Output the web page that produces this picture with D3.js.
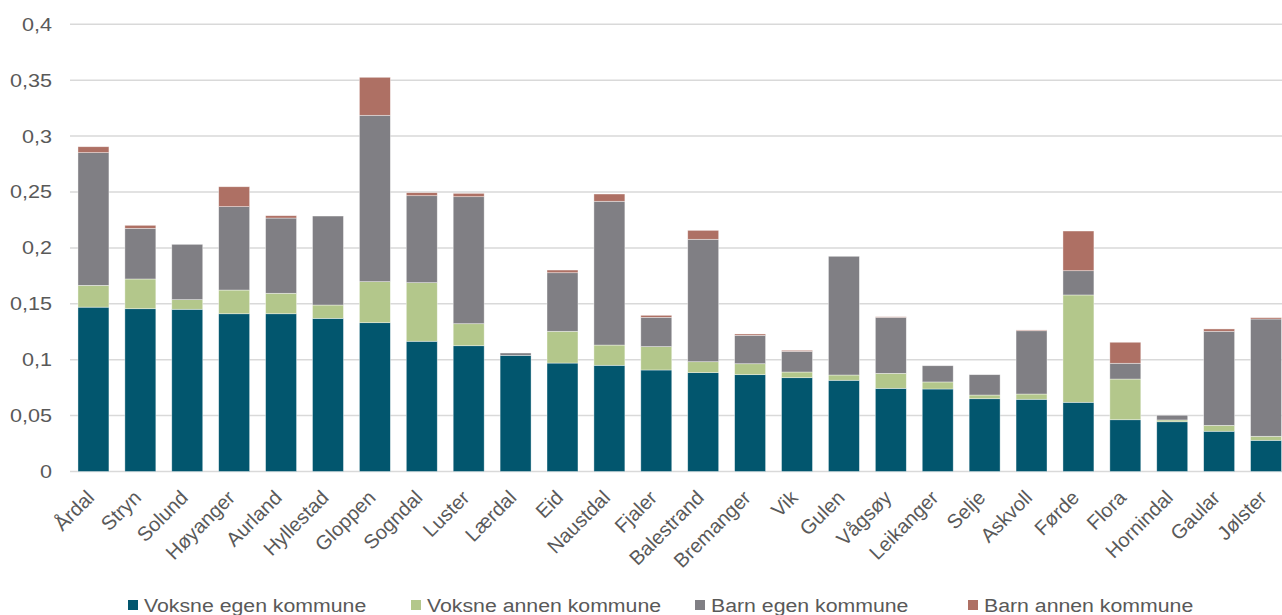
<!DOCTYPE html>
<html><head><meta charset="utf-8">
<script src="https://cdn.jsdelivr.net/npm/d3@7"></script>
<style>html,body{margin:0;padding:0;background:#fff;overflow:hidden}</style>
</head><body><svg id="c" width="1282" height="615"></svg>
<script>
const categories = ["Årdal","Stryn","Solund","Høyanger","Aurland","Hyllestad","Gloppen","Sogndal","Luster","Lærdal","Eid","Naustdal","Fjaler","Balestrand","Bremanger","Vik","Gulen","Vågsøy","Leikanger","Selje","Askvoll","Førde","Flora","Hornindal","Gaular","Jølster"];
const voksneEgen  = [0.147,0.1456,0.1451,0.1411,0.1411,0.137,0.1331,0.1165,0.1125,0.1039,0.097,0.095,0.0908,0.0884,0.0866,0.0839,0.0816,0.0744,0.0738,0.0651,0.0646,0.0619,0.0463,0.0445,0.036,0.0279];
const voksneAnnen = [0.0195,0.0266,0.0086,0.0212,0.0183,0.0119,0.0367,0.0524,0.0197,0,0.0284,0.0181,0.0209,0.0098,0.0098,0.0051,0.0047,0.0134,0.0063,0.0033,0.0047,0.096,0.0364,0.0016,0.0053,0.0036];
const barnEgen    = [0.1187,0.0453,0.0495,0.0746,0.0673,0.0796,0.1488,0.0778,0.1136,0.0021,0.0524,0.1286,0.0262,0.1095,0.0254,0.0185,0.1062,0.0501,0.0145,0.0182,0.0566,0.0217,0.0141,0.0042,0.0841,0.1049];
const barnAnnen   = [0.0053,0.0027,0,0.0178,0.0021,0,0.034,0.0027,0.003,0,0.0024,0.0065,0.0018,0.008,0.0012,0.0009,0,0.0005,0,0,0.0007,0.0355,0.0188,0,0.0021,0.0012];
const seriesNames = ["Voksne egen kommune","Voksne annen kommune","Barn egen kommune","Barn annen kommune"];
const yTicks = [0,0.05,0.1,0.15,0.2,0.25,0.3,0.35,0.4];

const colors = ["#02566e","#b3c78b","#807f84","#ae7064"];
const textColor = "#595959";
const svg = d3.select("#c");

const rows = categories.map((c,i)=>({cat:c, s0:voksneEgen[i], s1:voksneAnnen[i], s2:barnEgen[i], s3:barnAnnen[i]}));
const stack = d3.stack().keys(["s0","s1","s2","s3"])(rows);

const x = d3.scaleBand().domain(categories).range([70,1289.5]).paddingInner(0.34).paddingOuter(0.17);
const y = d3.scaleLinear().domain([0,0.4]).range([471.5,24.3]);

// gridlines
svg.append("g").selectAll("line").data(yTicks).join("line")
  .attr("x1",70).attr("x2",1282)
  .attr("y1",d=>y(d)).attr("y2",d=>y(d))
  .attr("stroke","#d9d9d9").attr("stroke-width",1.5);

// tick labels
const fmt = d => String(d).replace(".",",");
svg.append("g").selectAll("text").data(yTicks).join("text")
  .attr("transform",d=>`translate(52,${y(d)}) scale(1.2,1)`)
  .attr("text-anchor","end").attr("dy","0.36em")
  .attr("font-family","Liberation Sans, Arial, sans-serif").attr("font-size",18)
  .attr("fill",textColor).text(fmt);

// bars
svg.append("g").selectAll("g").data(stack).join("g")
  .attr("fill",(d,i)=>colors[i])
  .selectAll("rect").data(d=>d.filter(p=>p[1]-p[0]>0)).join("rect")
  .attr("x",d=>x(d.data.cat)).attr("width",x.bandwidth())
  .attr("y",d=>y(d[1])).attr("height",d=>y(d[0])-y(d[1]))
  .attr("stroke","#ffffff").attr("stroke-opacity",0.55).attr("stroke-width",0.7);

// category labels
svg.append("g").selectAll("text").data(categories).join("text")
  .attr("transform",d=>`translate(${x(d)+x.bandwidth()/2-3},494) rotate(-45)`)
  .attr("text-anchor","end").attr("dy","0.35em")
  .attr("font-family","Liberation Sans, Arial, sans-serif").attr("font-size",20)
  .attr("fill",textColor).text(d=>d);

// legend
const legX = [128,411,695,968];
const leg = svg.append("g").selectAll("g").data(seriesNames).join("g")
  .attr("transform",(d,i)=>`translate(${legX[i]},605)`);
leg.append("rect").attr("x",0).attr("y",-5).attr("width",10).attr("height",10)
  .attr("fill",(d,i)=>colors[i]);
leg.append("text").attr("transform","translate(16,0) scale(1.12,1)").attr("dy","0.36em")
  .attr("font-family","Liberation Sans, Arial, sans-serif").attr("font-size",19)
  .attr("fill",textColor).text(d=>d);
</script></body></html>
